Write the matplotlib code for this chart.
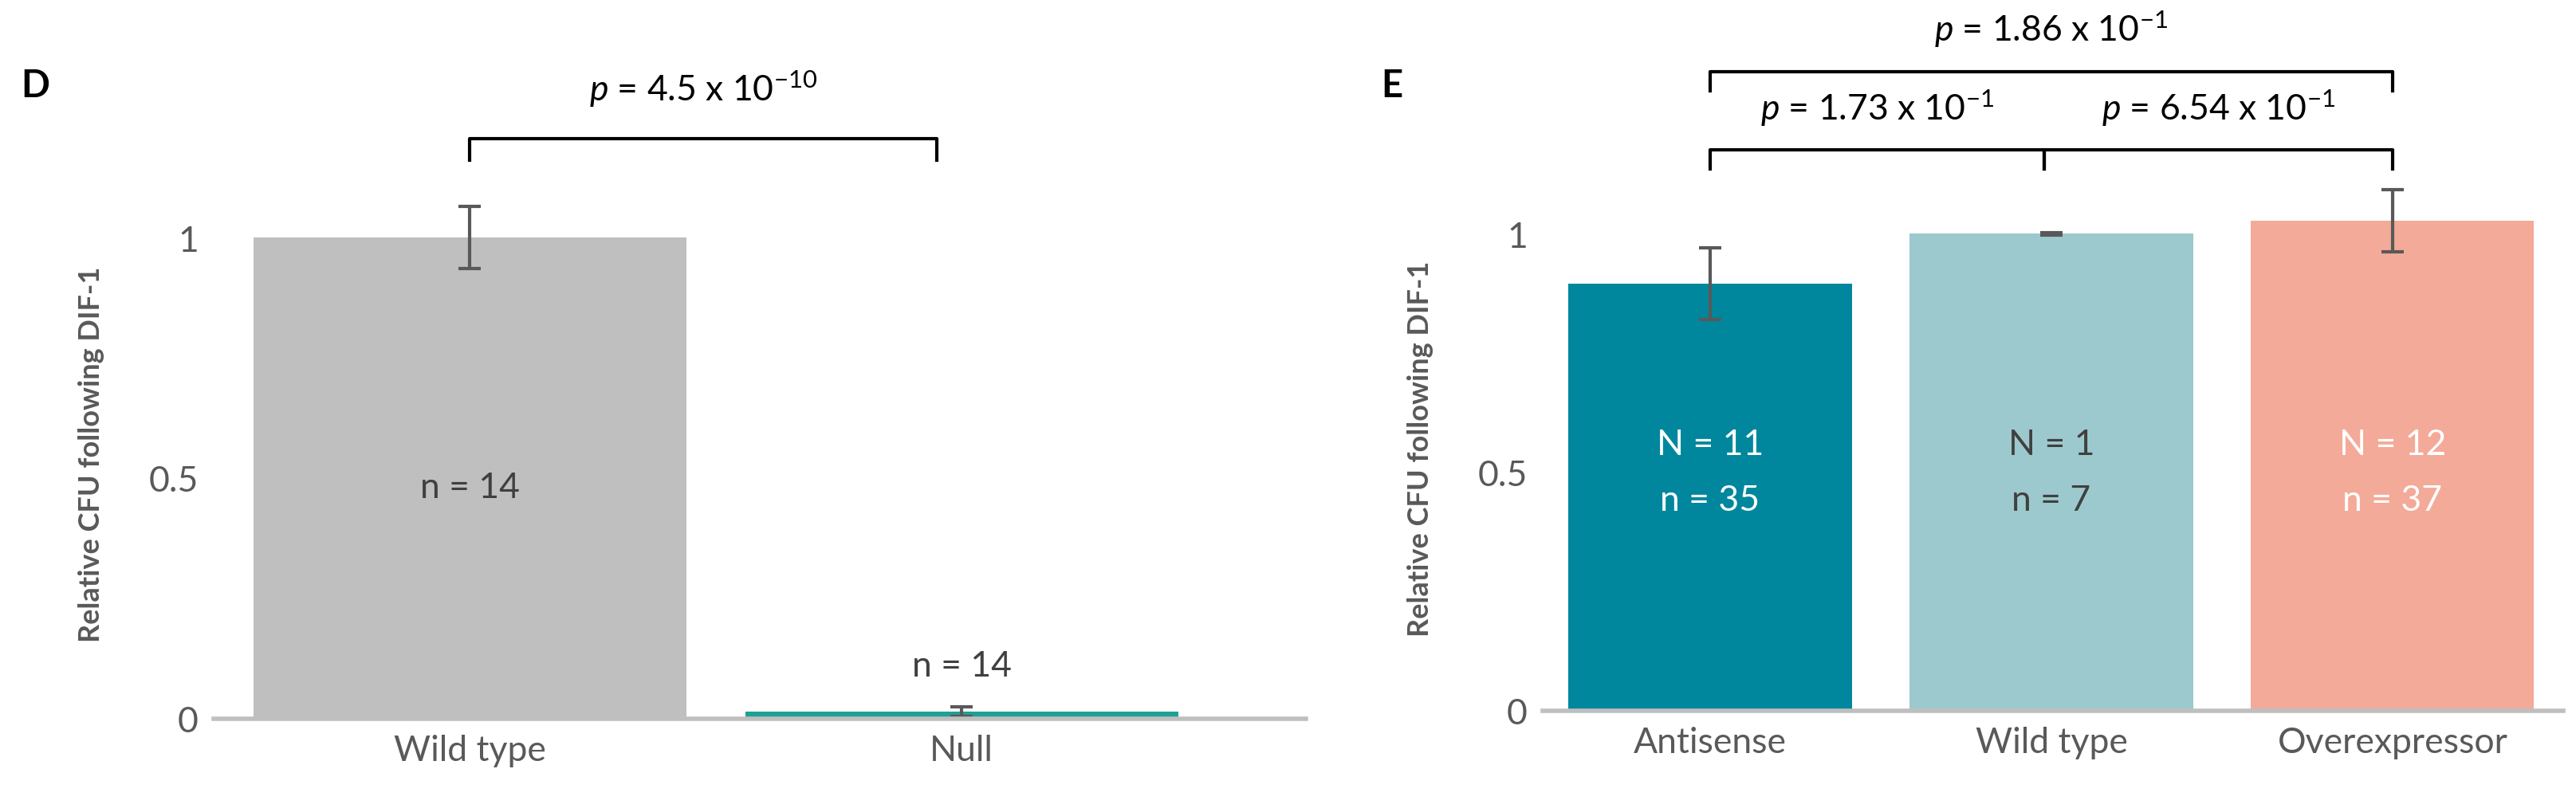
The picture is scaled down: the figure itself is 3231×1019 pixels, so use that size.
import matplotlib
matplotlib.use("Agg")
import matplotlib.pyplot as plt

plt.rcParams['font.family'] = ['Lato', 'DejaVu Sans']
plt.rcParams['mathtext.fontset'] = 'custom'
plt.rcParams['mathtext.it'] = 'Lato:italic'
plt.rcParams['mathtext.rm'] = 'Lato'

d_cats = ["Wild type", "Null"]
d_vals = [1.0, 0.015]
d_err = [0.065, 0.01]
d_colors = ["#BFBFBF", "#1FA095"]
d_ns = ["n = 14", "n = 14"]

e_cats = ["Antisense", "Wild type", "Overexpressor"]
e_vals = [0.895, 1.0, 1.028]
e_err = [0.075, 0.002, 0.065]
e_colors = ["#00879D", "#9CC9CD", "#F4AA98"]
e_labels = ["N = 11\nn = 35", "N = 1\nn = 7", "N = 12\nn = 37"]
e_textcol = ["white", "#404040", "white"]

grey = "#595959"
fig = plt.figure(figsize=(32.31, 10.2), dpi=100)

def style(ax):
    for s in ['top', 'right', 'left']:
        ax.spines[s].set_visible(False)
    ax.spines['bottom'].set_color("#BFBFBF")
    ax.spines['bottom'].set_linewidth(4)
    ax.tick_params(length=0, labelsize=32, colors=grey, pad=14)
    ax.set_yticks([0, 0.5, 1])
    ax.set_yticklabels(["0", "0.5", "1"])
    ax.set_ylim(0, 1.1)
    ax.set_ylabel("Relative CFU following DIF-1", fontsize=26, fontweight='bold', color=grey, labelpad=40)

def bracket(ax, x1, x2, y, leg, text, ty):
    ax.plot([x1, x1, x2, x2], [y - leg, y, y, y - leg], color='black', lw=3, clip_on=False)
    ax.text((x1 + x2) / 2, ty, text, ha='center', va='center', fontsize=32, clip_on=False)

# Panel D
axd = fig.add_axes([0.083, 0.115, 0.424, 0.651])
style(axd)
xd = list(range(len(d_cats)))
axd.bar(xd, d_vals, width=0.88, color=d_colors)
axd.errorbar(xd, d_vals, yerr=d_err, fmt='none', ecolor=grey, elinewidth=3, capsize=10, capthick=3)
axd.set_xticks(xd)
axd.set_xticklabels(d_cats)
axd.set_xlim(-0.52, 1.7)
axd.text(0, 0.48, d_ns[0], ha='center', va='center', fontsize=32, color="#404040")
axd.text(1, 0.11, d_ns[1], ha='center', va='center', fontsize=32, color="#404040")
bracket(axd, 0, 0.95, 1.205, 0.045, "$p$ = 4.5 x 10$^{-10}$", 1.31)
fig.text(0.008, 0.88, "D", fontsize=34, fontweight='bold')

# Panel E
axe = fig.add_axes([0.599, 0.125, 0.396, 0.645])
style(axe)
xe = list(range(len(e_cats)))
axe.bar(xe, e_vals, width=0.83, color=e_colors)
axe.errorbar(xe, e_vals, yerr=e_err, fmt='none', ecolor=grey, elinewidth=3, capsize=10, capthick=3)
axe.set_xticks(xe)
axe.set_xticklabels(e_cats)
axe.set_xlim(-0.49, 2.5)
for x, lab, c in zip(xe, e_labels, e_textcol):
    axe.text(x, 0.5, lab, ha='center', va='center', fontsize=32, color=c, linespacing=1.9)
bracket(axe, 0, 0.98, 1.176, 0.04, "$p$ = 1.73 x 10$^{-1}$", 1.265)
bracket(axe, 0.98, 2.0, 1.176, 0.04, "$p$ = 6.54 x 10$^{-1}$", 1.265)
bracket(axe, 0, 2.0, 1.34, 0.04, "$p$ = 1.86 x 10$^{-1}$", 1.43)
fig.text(0.536, 0.88, "E", fontsize=34, fontweight='bold')

fig.savefig("out.png", dpi=100)
